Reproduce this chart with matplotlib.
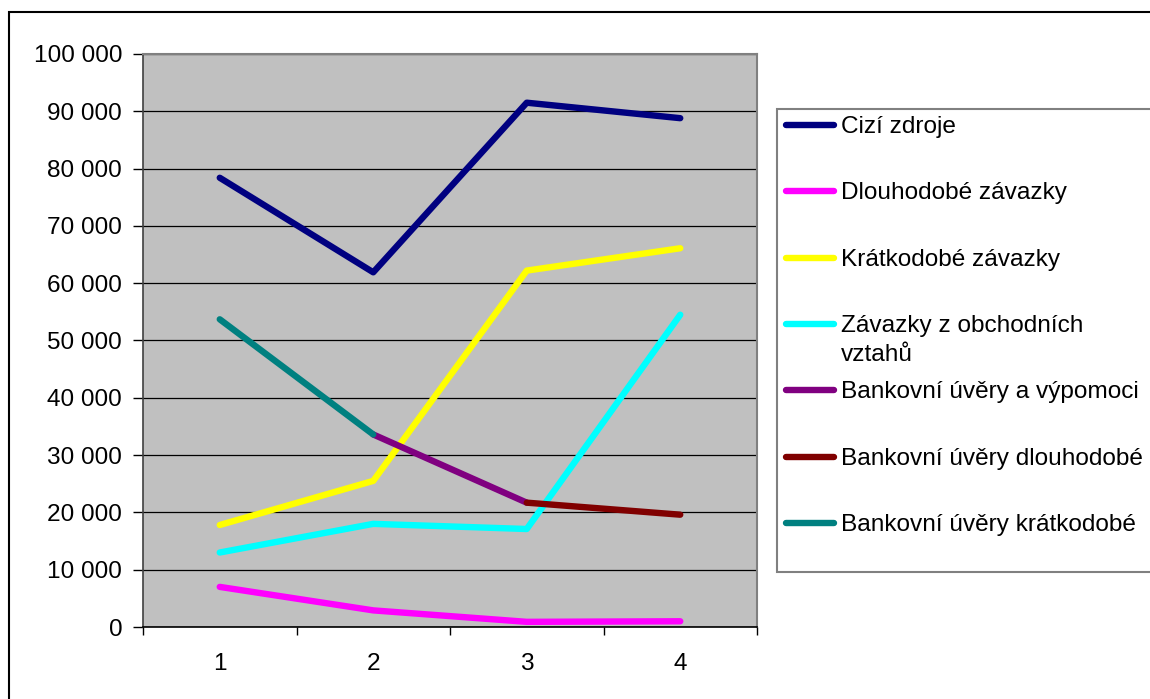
import numpy as np
import matplotlib
matplotlib.use("Agg")
import matplotlib.pyplot as plt
from matplotlib.lines import Line2D
from matplotlib.patches import Rectangle
from matplotlib.ticker import FuncFormatter, FixedLocator

plt.rcParams["font.family"] = ["Liberation Sans", "DejaVu Sans"]

# Periods on the category axis
periods = ["1", "2", "3", "4"]

# Series values (NaN where the series has no value)
cizi_zdroje = [78400, 61900, 91500, 88800]
dlouhodobe_zavazky = [7000, 2900, 900, 1000]
kratkodobe_zavazky = [17800, 25500, 62200, 66100]
zavazky_obchodni = [13000, 18000, 17100, 54500]
bankovni_uvery_vypomoci = [np.nan, 33600, 21700, np.nan]
bankovni_uvery_dlouhodobe = [np.nan, np.nan, 21700, 19600]
bankovni_uvery_kratkodobe = [53700, 33600, np.nan, np.nan]

series_labels = [
    "Cizí zdroje",
    "Dlouhodobé závazky",
    "Krátkodobé závazky",
    "Závazky z obchodních\nvztahů",
    "Bankovní úvěry a výpomoci",
    "Bankovní úvěry dlouhodobé",
    "Bankovní úvěry krátkodobé",
]
series_values = [
    cizi_zdroje,
    dlouhodobe_zavazky,
    kratkodobe_zavazky,
    zavazky_obchodni,
    bankovni_uvery_vypomoci,
    bankovni_uvery_dlouhodobe,
    bankovni_uvery_kratkodobe,
]
series_colors = ["#000080", "#FF00FF", "#FFFF00", "#00FFFF",
                 "#800080", "#800000", "#008080"]

W, H, DPI = 1150, 699, 100
FS = 17.6
fig = plt.figure(figsize=(W / DPI, H / DPI), dpi=DPI)


def fx(px):
    return px / W


def fy(py):
    return 1 - py / H


# Outer chart frame
fig.add_artist(Rectangle((fx(9), fy(705)), fx(1160 - 9), fy(12) - fy(705),
                         transform=fig.transFigure, fill=False,
                         edgecolor="black", linewidth=1.5))

ax = fig.add_axes([fx(143), fy(627), fx(757) - fx(143), fy(54) - fy(627)])
ax.set_facecolor("#C0C0C0")

x = np.arange(1, len(periods) + 1)
LW = 4.6
for vals, col in zip(series_values, series_colors):
    ax.plot(x, vals, color=col, linewidth=LW, solid_capstyle="round",
            solid_joinstyle="round", zorder=3)

ax.set_xlim(0.5, len(periods) + 0.5)
ax.set_ylim(0, 100000)

# Horizontal gridlines
ax.yaxis.set_major_locator(FixedLocator(np.arange(0, 100001, 10000)))
ax.grid(axis="y", color="black", linewidth=0.9, zorder=1)
ax.set_axisbelow(True)
ax.yaxis.set_major_formatter(
    FuncFormatter(lambda v, p: f"{int(v):,}".replace(",", " ")))

# Category ticks between categories, labels centred on categories
ax.xaxis.set_major_locator(FixedLocator(np.arange(0.5, len(periods) + 1, 1)))
ax.xaxis.set_major_formatter(FuncFormatter(lambda v, p: ""))
ax.set_xticks(x, periods, minor=True)
ax.tick_params(axis="x", which="major", direction="out", length=6,
               width=1, color="black")
ax.tick_params(axis="x", which="minor", length=0, pad=19, labelsize=FS)
ax.tick_params(axis="y", direction="out", length=7, width=1,
               color="black", pad=8, labelsize=FS)

for side in ["top", "right"]:
    ax.spines[side].set_color("#808080")
    ax.spines[side].set_linewidth(1.5)
ax.spines["left"].set_color("#404040")
ax.spines["left"].set_linewidth(1.2)
ax.spines["bottom"].set_color("black")
ax.spines["bottom"].set_linewidth(1.2)

# Legend box with fixed row spacing
fig.add_artist(Rectangle((fx(777), fy(572)), fx(1170 - 777), fy(109) - fy(572),
                         transform=fig.transFigure, fill=True, facecolor="white",
                         edgecolor="#808080", linewidth=1.5))
row0, step = 125, 66.3
for i, (lab, col) in enumerate(zip(series_labels, series_colors)):
    yy = row0 + i * step
    fig.add_artist(Line2D([fx(786), fx(834)], [fy(yy), fy(yy)],
                          transform=fig.transFigure, color=col,
                          linewidth=LW, solid_capstyle="round"))
    first, *rest = lab.split("\n")
    fig.text(fx(841), fy(yy + 2), first, fontsize=FS, va="center", ha="left")
    for j, extra in enumerate(rest, start=1):
        fig.text(fx(841), fy(yy + 2 + j * 29), extra, fontsize=FS,
                 va="center", ha="left")

fig.savefig("out.png", dpi=DPI)
